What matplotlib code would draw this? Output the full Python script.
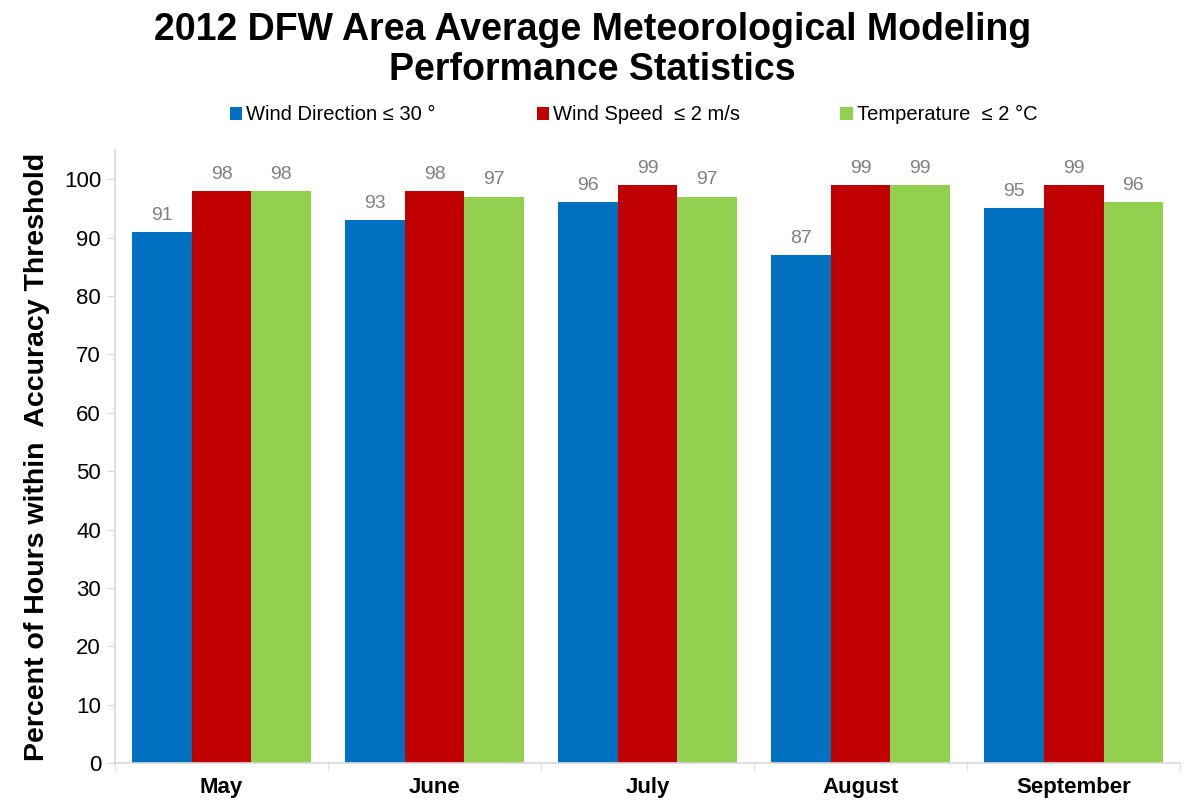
import numpy as np
import matplotlib.pyplot as plt

plt.rcParams['font.family'] = ['Liberation Sans', 'DejaVu Sans']

months = ["May", "June", "July", "August", "September"]
wind_dir = [91, 93, 96, 87, 95]
wind_speed = [98, 98, 99, 99, 99]
temperature = [98, 97, 97, 99, 96]

series = [
    ("Wind Direction \u2264 30 \u00b0", wind_dir, "#0070C0"),
    ("Wind Speed  \u2264 2 m/s", wind_speed, "#C00000"),
    ("Temperature  \u2264 2 \u00b0C", temperature, "#92D050"),
]

fig = plt.figure(figsize=(11.85, 8.06), dpi=100)
ax = fig.add_axes([0.097, 0.053, 0.899, 0.761])

x = np.arange(len(months))
width = 0.28
for i, (label, vals, color) in enumerate(series):
    pos = x + (i - 1) * width
    bars = ax.bar(pos, vals, width, color=color, label=label)
    for b, v in zip(bars, vals):
        ax.text(b.get_x() + b.get_width() / 2, v + 1.4, str(v), ha="center",
                va="bottom", fontsize=14, color="#808080")

ax.set_xlim(-0.5, len(months) - 0.5)
ax.set_ylim(0, 105)
ax.set_yticks(range(0, 101, 10))
ax.tick_params(axis="y", labelsize=16, length=6, color="#d9d9d9", pad=4)
ax.set_xticks(x)
ax.set_xticklabels(months, fontsize=16, fontweight="bold")
ax.tick_params(axis="x", length=0, pad=10)
# category separators below the axis
ax.set_xticks(np.arange(len(months) + 1) - 0.5, minor=True)
ax.tick_params(axis="x", which="minor", length=6, color="#d9d9d9")

for s in ["top", "right"]:
    ax.spines[s].set_visible(False)
for s in ["left", "bottom"]:
    ax.spines[s].set_color("#d9d9d9")
    ax.spines[s].set_linewidth(1.2)

ax.set_ylabel("Percent of Hours within  Accuracy Threshold", fontsize=20.5,
              fontweight="bold", labelpad=10)

fig.suptitle("2012 DFW Area Average Meteorological Modeling\nPerformance Statistics",
             fontsize=27, fontweight="bold", y=0.985, linespacing=1.15)

ax.legend(loc="lower center", bbox_to_anchor=(0.487, 1.012), ncol=3, frameon=False,
          fontsize=14.5, handlelength=0.6, handleheight=0.6, handletextpad=0.2,
          columnspacing=5)

fig.savefig("out.png", dpi=100)
